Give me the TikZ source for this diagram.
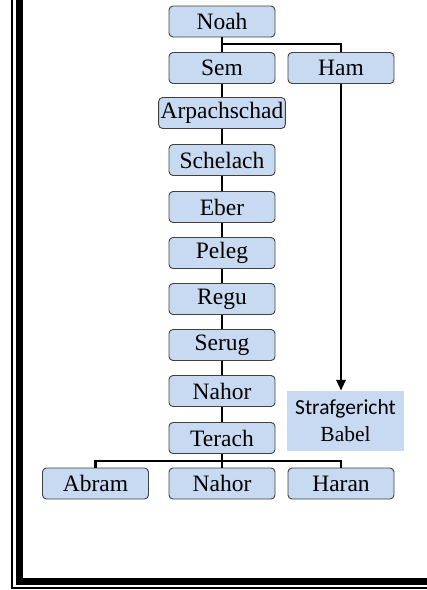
\documentclass[tikz,border=0pt]{standalone}
\usepackage{fontspec}
\setmainfont{Liberation Serif}
\newfontfamily\carlito{Carlito}
\usetikzlibrary{arrows.meta}
\definecolor{boxfill}{HTML}{C8DAF1}
\definecolor{boxline}{HTML}{404040}
\tikzset{
  person/.style={draw=boxline, fill=boxfill, rounded corners=4pt, line width=0.9pt,
    minimum width=106pt, minimum height=31pt, inner sep=2pt,
    font=\fontsize{23.5}{28}\selectfont},
  conn/.style={line width=2.8pt, black},
}
\begin{document}
\begin{tikzpicture}[x=1pt,y=-1pt]
\useasboundingbox (0,0) rectangle (427,590);
\begin{scope}
\clip (0,0) rectangle (427,590);
\draw[line width=7pt] (19.5,-20) -- (19.5,581.5) -- (450,581.5);
\draw[line width=1.6pt] (12,-20) -- (12,588) -- (450,588);
\end{scope}
\node[person] (noah) at (222,21.5) {Noah};
\node[person] (sem) at (222,68) {Sem};
\node[person] (ham) at (341,68) {Ham};
\node[person] (arp) at (222,113) {Arpachschad};
\node[person] (sch) at (222,160) {Schelach};
\node[person] (eber) at (222,207) {Eber};
\node[person] (peleg) at (222,253) {Peleg};
\node[person] (regu) at (222,299) {Regu};
\node[person] (serug) at (222,345) {Serug};
\node[person] (nahor) at (222,391) {Nahor};
\node[person] (terach) at (222,438) {Terach};
\node[person] (abram) at (95.5,483.5) {Abram};
\node[person] (nahor2) at (222,483.5) {Nahor};
\node[person] (haran) at (341,483.5) {Haran};
\node[fill=boxfill, minimum width=117pt, minimum height=60pt, inner sep=0pt, align=center,
  font=\fontsize{21.5}{27}\selectfont] (straf) at (345.5,421) {\carlito Strafgericht\\\rmfamily Babel};
\coordinate (j1) at (222,44);
\coordinate (j2) at (222,461);
\draw[conn] (noah.south) -- (sem.north);
\draw[conn] (j1) -| (ham.north);
\draw[conn] (sem) -- (arp);
\draw[conn] (arp) -- (sch);
\draw[conn] (sch) -- (eber);
\draw[conn] (eber) -- (peleg);
\draw[conn] (peleg) -- (regu);
\draw[conn] (regu) -- (serug);
\draw[conn] (serug) -- (nahor);
\draw[conn] (nahor) -- (terach);
\draw[conn] (terach.south) -- (nahor2.north);
\draw[conn] (j2) -| (abram.north);
\draw[conn] (j2) -| (haran.north);
\draw[conn, -{Triangle[length=11pt,width=9pt]}] (ham.south) -- (ham.south |- straf.north);
\end{tikzpicture}
\end{document}
